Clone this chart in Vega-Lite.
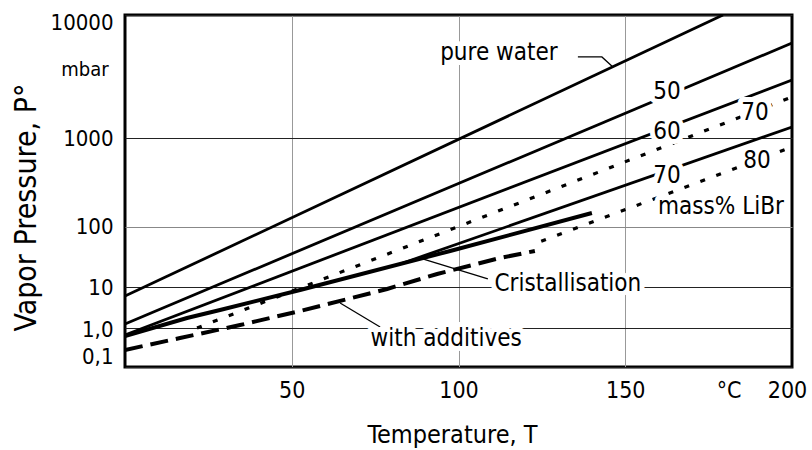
{
  "$schema": "https://vega.github.io/schema/vega-lite/v6.json",
  "width": 667,
  "height": 352,
  "autosize": {"type": "none"},
  "padding": {"left": 125, "top": 15, "right": 20, "bottom": 83},
  "background": "white",
  "config": {
    "view": {"stroke": "black", "strokeWidth": 3},
    "font": "DejaVu Sans Condensed",
    "axis": {"labelFont": "DejaVu Sans Condensed", "titleFont": "DejaVu Sans Condensed", "labelColor": "black", "titleColor": "black", "titleFontWeight": "normal"}
  },
  "datasets": {
    "curves": [
      {"s": "water", "T": 0, "P": 6.0},
      {"s": "water", "T": 179.3, "P": 10000},
      {"s": "50", "T": 0, "P": 1.25},
      {"s": "50", "T": 200, "P": 5916},
      {"s": "60", "T": 0, "P": 0.66},
      {"s": "60", "T": 200, "P": 2965},
      {"s": "70", "T": 82.5, "P": 24.0},
      {"s": "70", "T": 200, "P": 1227},
      {"s": "cryst", "T": 0, "P": 0.62},
      {"s": "cryst", "T": 18.6, "P": 1.75},
      {"s": "cryst", "T": 28.5, "P": 2.75},
      {"s": "cryst", "T": 52.5, "P": 8.45},
      {"s": "cryst", "T": 97.5, "P": 39.4},
      {"s": "cryst", "T": 140.0, "P": 142},
      {"s": "70a", "T": 21.6, "P": 1.0},
      {"s": "70a", "T": 200, "P": 2154},
      {"s": "80a", "T": 124.8, "P": 57},
      {"s": "80a", "T": 200, "P": 791},
      {"s": "add", "T": 0, "P": 0.273},
      {"s": "add", "T": 16.5, "P": 0.554},
      {"s": "add", "T": 34.5, "P": 1.18},
      {"s": "add", "T": 52.5, "P": 2.6},
      {"s": "add", "T": 78.6, "P": 8.94},
      {"s": "add", "T": 93.6, "P": 16.4},
      {"s": "add", "T": 112.4, "P": 30.1},
      {"s": "add", "T": 122.9, "P": 39.4},
      {"s": "lw", "T": 135.8, "P": 4560},
      {"s": "lw", "T": 143.0, "P": 4560},
      {"s": "lw", "T": 146.3, "P": 3776},
      {"s": "lc", "T": 88.5, "P": 30.1},
      {"s": "lc", "T": 108.8, "P": 13.6},
      {"s": "la", "T": 64.5, "P": 4.07},
      {"s": "la", "T": 76.5, "P": 1.06}
    ],
    "labels": [
      {"text": "pure water", "T": 112.1, "P": 4911},
      {"text": "50", "T": 162.5, "P": 2366},
      {"text": "60", "T": 162.5, "P": 1119},
      {"text": "70", "T": 162.5, "P": 372},
      {"text": "70", "T": 188.9, "P": 1596},
      {"text": "80", "T": 189.5, "P": 550},
      {"text": "mass% LiBr", "T": 178.7, "P": 166},
      {"text": "Cristallisation", "T": 132.8, "P": 11.2},
      {"text": "with additives", "T": 96.3, "P": 0.522}
    ],
    "unit": [
      {"text": "mbar", "T": -12, "P": 3573}
    ]
  },
  "encoding": {
    "x": {
      "field": "T", "type": "quantitative",
      "scale": {"domain": [0, 200], "nice": false, "zero": false},
      "axis": {
        "values": [50, 100, 150, 181, 200],
        "labelExpr": "datum.value == 181 ? '°C' : datum.label",
        "grid": true, "gridColor": "#999", "gridWidth": 1,
        "gridOpacity": {"condition": {"test": "datum.value > 170", "value": 0}, "value": 1},
        "labelOffset": {"condition": {"test": "datum.value == 200", "value": -5}, "value": 0},
        "ticks": false, "domain": false,
        "labelFontSize": 23, "labelPadding": 12, "labelFlush": false, "labelOverlap": false,
        "title": "Temperature, T", "titleFontSize": 25,
        "titleX": 327, "titleY": 75, "titleBaseline": "alphabetic", "titleAlign": "center"
      }
    },
    "y": {
      "field": "P", "type": "quantitative",
      "scale": {"type": "log", "domain": [0.1, 1, 10, 100, 1000, 10000], "range": [352, 313, 272, 211.5, 123, 0], "nice": false},
      "axis": {
        "values": [0.1, 1, 10, 100, 1000, 10000],
        "labelExpr": "datum.value < 0.5 ? '0,1' : datum.value < 5 ? '1,0' : format(datum.value, 'd')",
        "grid": true, "gridWidth": 1,
        "gridColor": {"condition": {"test": "datum.value == 100", "value": "#888"}, "value": "#222"},
        "ticks": false, "domain": false,
        "labelFontSize": 22, "labelPadding": 12, "labelBaseline": "middle",
        "labelFlush": false, "labelOverlap": false, "labelBound": false,
        "labelOffset": {"condition": [{"test": "datum.value > 5000", "value": 7}, {"test": "datum.value < 0.5", "value": -11}, {"test": "datum.value > 0.5 && datum.value < 5", "value": 1}], "value": 0},
        "title": "Vapor Pressure,  P°", "titleFontSize": 30,
        "titleX": -90, "titleY": 192, "titleAlign": "center", "titleBaseline": "alphabetic", "titleAngle": -90
      }
    }
  },
  "layer": [
    {
      "data": {"name": "curves"},
      "transform": [{"filter": "indexof(['water','50','60','70'], datum.s) >= 0"}],
      "mark": {"type": "line", "color": "black", "strokeWidth": 2.8, "clip": true},
      "encoding": {"detail": {"field": "s"}}
    },
    {
      "data": {"name": "curves"},
      "transform": [{"filter": "datum.s == 'cryst'"}],
      "mark": {"type": "line", "color": "black", "strokeWidth": 4, "clip": true},
      "encoding": {"detail": {"field": "s"}}
    },
    {
      "data": {"name": "curves"},
      "transform": [{"filter": "datum.s == '70a' || datum.s == '80a'"}],
      "mark": {"type": "line", "color": "black", "strokeWidth": 3.2, "strokeDash": [5, 12], "clip": true},
      "encoding": {"detail": {"field": "s"}}
    },
    {
      "data": {"name": "curves"},
      "transform": [{"filter": "datum.s == 'add'"}],
      "mark": {"type": "line", "color": "black", "strokeWidth": 4, "strokeDash": [18, 8], "clip": true},
      "encoding": {"detail": {"field": "s"}}
    },
    {
      "data": {"name": "curves"},
      "transform": [{"filter": "indexof(['lw','lc','la'], datum.s) >= 0"}],
      "mark": {"type": "line", "color": "black", "strokeWidth": 1.3, "clip": true},
      "encoding": {"detail": {"field": "s"}}
    },
    {
      "data": {"name": "labels"},
      "mark": {"type": "text", "fontSize": 24, "align": "center", "baseline": "middle", "stroke": "white", "strokeWidth": 10, "fill": "white", "strokeJoin": "round"},
      "encoding": {"text": {"field": "text"}}
    },
    {
      "data": {"name": "labels"},
      "mark": {"type": "text", "fontSize": 24, "align": "center", "baseline": "middle", "color": "black"},
      "encoding": {"text": {"field": "text"}}
    },
    {
      "data": {"name": "unit"},
      "mark": {"type": "text", "fontSize": 20, "align": "center", "baseline": "middle", "color": "black"},
      "encoding": {"text": {"field": "text"}}
    }
  ]
}
